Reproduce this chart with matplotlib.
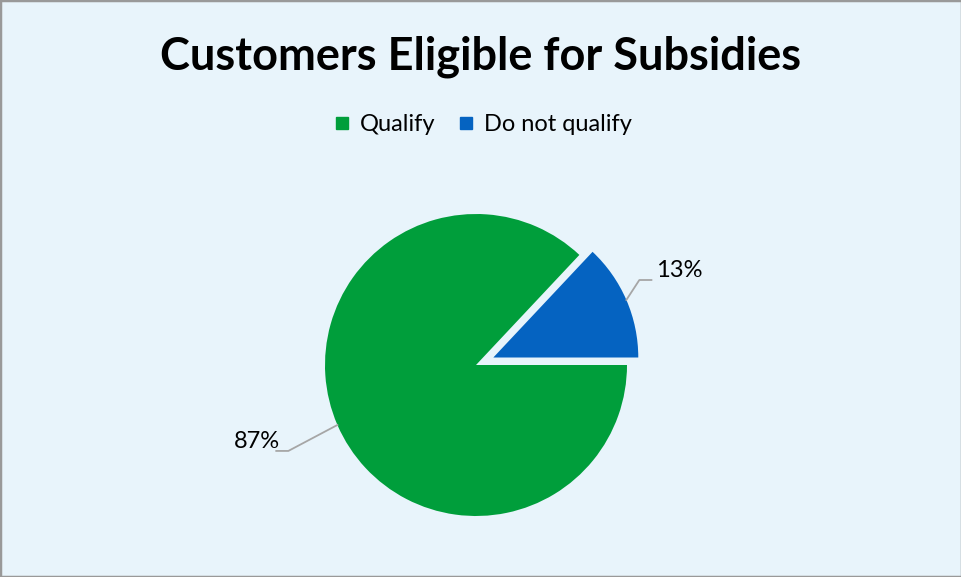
import numpy as np
import matplotlib.pyplot as plt
from matplotlib.lines import Line2D
from matplotlib.patches import Rectangle

plt.rcParams["font.family"] = ["Lato", "DejaVu Sans"]

# 数据
categories = ["Qualify", "Do not qualify"]
shares = [87, 13]
pct_labels = ["87%", "13%"]

colors = ["#009E3B", "#0563C1"]
bg = "#E8F4FB"

fig = plt.figure(figsize=(9.62, 5.77), dpi=100, facecolor=bg)
ax = fig.add_axes([0, 0, 1, 1])
ax.set_facecolor(bg)

start = 360 * shares[1] / 100
wedges, _ = ax.pie(
    shares,
    colors=colors,
    startangle=start,
    counterclock=True,
    explode=[0, 0.125],
    radius=1,
    wedgeprops={"linewidth": 0},
)
wedges[1].set_radius(0.96)

# 饼图位置 (半径1 = 151 像素)
W, H, R = 962, 577, 151
cx, cy = 476, 365
ax.set_xlim(-cx / R, (W - cx) / R)
ax.set_ylim(-(H - cy) / R, cy / R)
ax.set_aspect("equal")
ax.axis("off")

# 引导线和百分比标签
leader = [(-0.325, -0.172), (0.086, 0.132)]
text_dx = [-0.027, 0.033]
for w, lab, (lx, ly), tdx in zip(wedges, pct_labels, leader, text_dx):
    th = np.deg2rad((w.theta1 + w.theta2) / 2)
    c = np.array(w.center)
    p1 = c + w.r * np.array([np.cos(th), np.sin(th)])
    p2 = p1 + np.array([lx, ly])
    s = np.sign(lx)
    p3 = p2 + np.array([s * 0.08, 0])
    ax.plot([p1[0], p2[0], p3[0]], [p1[1], p2[1], p3[1]], color="#A6A6A6", lw=1.3)
    ax.text(p3[0] + s * tdx, p3[1] + 0.063, lab, fontsize=17,
            ha="left" if s > 0 else "right", va="center", color="black")

# 标题
fig.text(0.5, 1 - 57 / H, "Customers Eligible for Subsidies", ha="center", va="center",
         fontsize=32.5, fontweight="bold", color="black")

# 图例
handles = [Line2D([], [], marker="s", ls="none", markersize=8, color=c) for c in colors]
fig.legend(handles, categories, loc="center", bbox_to_anchor=(0.5, 1 - 125 / H),
           ncol=2, frameon=False, fontsize=17, handletextpad=0.25, columnspacing=0.8,
           handlelength=1.0)

# 边框
fig.patches.append(Rectangle((0, 0), 1, 1, transform=fig.transFigure, fill=False,
                             edgecolor="#999999", lw=2.5))

fig.savefig("out.png", dpi=100, facecolor=bg)
